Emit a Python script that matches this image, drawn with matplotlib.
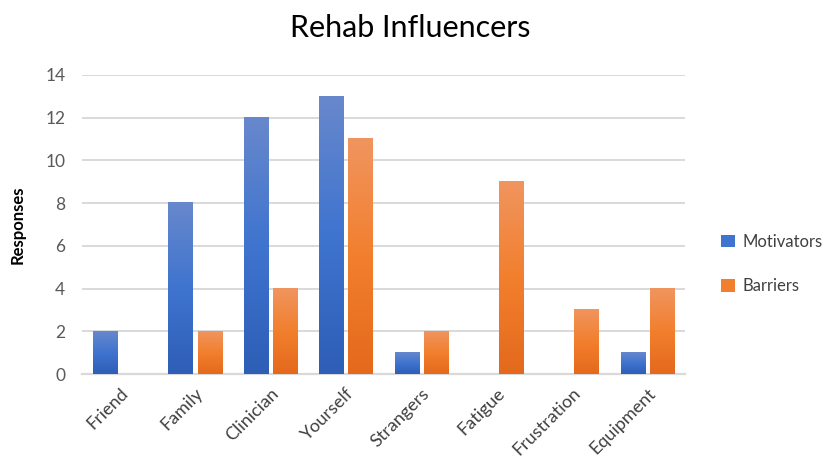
import numpy as np
import matplotlib
matplotlib.use("Agg")
import matplotlib.pyplot as plt
from matplotlib.colors import LinearSegmentedColormap
from matplotlib.patches import Patch

categories = ["Friend", "Family", "Clinician", "Yourself", "Strangers",
              "Fatigue", "Frustration", "Equipment"]
motivators = [2, 8, 12, 13, 1, 0, 0, 1]
barriers = [0, 2, 4, 11, 2, 9, 3, 4]
yticks = [0, 2, 4, 6, 8, 10, 12, 14]

plt.rcParams["font.family"] = ["Lato", "DejaVu Sans"]

blue_cmap = LinearSegmentedColormap.from_list("blue", ["#2E5EB6", "#3F74CF", "#6888CC"])
orange_cmap = LinearSegmentedColormap.from_list("orange", ["#E4691C", "#F27F2E", "#F0955F"])

fig = plt.figure(figsize=(8.25, 4.59), dpi=100)
ax = fig.add_axes([0.0994, 0.185, 0.731, 0.652])

x = np.arange(len(categories))
w = 0.32
off = 0.193

grad = np.linspace(0, 1, 256).reshape(-1, 1)

def gradient_bars(xs, vals, cmap, color):
    bars = ax.bar(xs, vals, w, color=color, zorder=2)
    for b in bars:
        h = b.get_height()
        if h <= 0:
            continue
        x0 = b.get_x()
        b.set_visible(False)
        ax.imshow(grad, cmap=cmap, origin="lower", aspect="auto",
                  extent=(x0, x0 + b.get_width(), 0, h), zorder=3,
                  interpolation="bicubic")
    return bars

gradient_bars(x - off, motivators, blue_cmap, "#3F74CF")
gradient_bars(x + off, barriers, orange_cmap, "#F27F2E")

ax.set_xlim(-0.5, len(categories) - 0.5)
ax.set_ylim(0, 14)
ax.set_yticks(yticks)
ax.yaxis.grid(True, color="#D9D9D9", linewidth=1.4, zorder=0)
ax.set_axisbelow(True)
for s in ["top", "right", "left"]:
    ax.spines[s].set_visible(False)
ax.spines["bottom"].set_color("#D9D9D9")
ax.spines["bottom"].set_linewidth(1.6)
ax.tick_params(axis="both", length=0, labelsize=12.5, labelcolor="#595959")
ax.tick_params(axis="y", pad=12)
ax.set_xticks(x)
ax.set_xticklabels(categories, rotation=45, ha="right", rotation_mode="anchor",
                   color="#404040", fontsize=13)
ax.tick_params(axis="x", pad=8)

ax.set_ylabel("Responses", fontsize=12, fontweight="bold", color="black", labelpad=14)
fig.text(0.497, 0.94, "Rehab Influencers", ha="center", va="center",
         fontsize=22, color="black")

handles = [Patch(facecolor="#3F74CF", label="Motivators"),
           Patch(facecolor="#F27F2E", label="Barriers")]
fig.legend(handles=handles, loc="center left", bbox_to_anchor=(0.856, 0.425),
           frameon=False, fontsize=12, handlelength=0.8, handleheight=0.8,
           handletextpad=0.5, labelspacing=1.7, labelcolor="#404040")

fig.savefig("out.png", dpi=100)
